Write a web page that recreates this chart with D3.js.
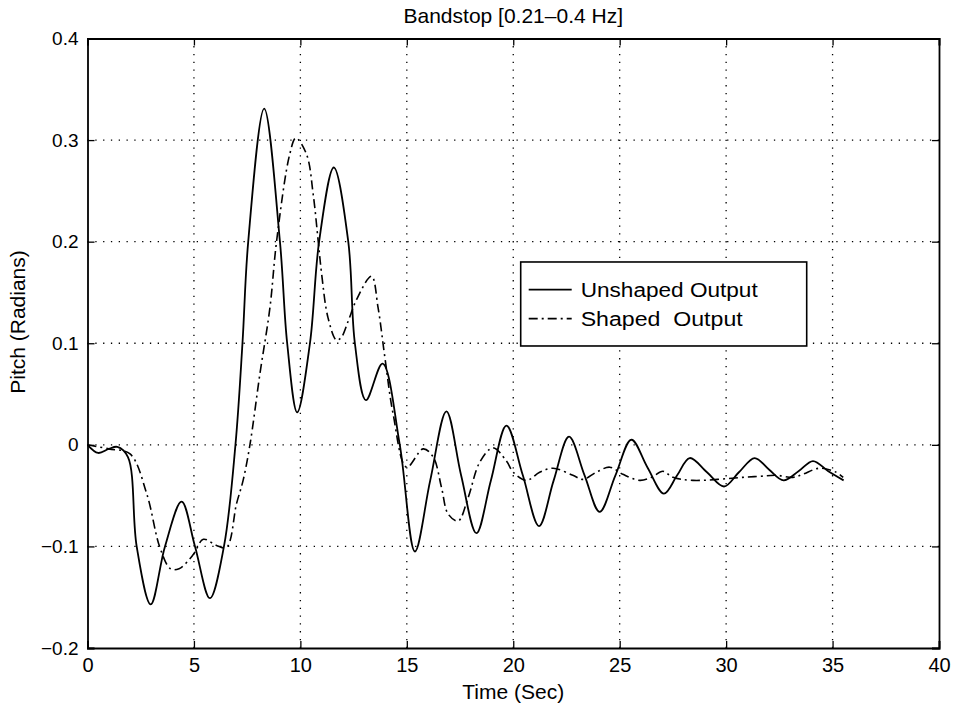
<!DOCTYPE html>
<html><head><meta charset="utf-8">
<script src="https://cdn.jsdelivr.net/npm/d3@7"></script>
<style>
body{margin:0;background:#fff;}
text{font-family:"Liberation Sans",Arial,Helvetica,sans-serif;fill:#000;}
</style></head>
<body><svg id="c" width="954" height="706"></svg>
<script>
const title = "Bandstop [0.21\u20130.4 Hz]";
const xLabel = "Time (Sec)";
const yLabel = "Pitch (Radians)";
const xTicks = [0,5,10,15,20,25,30,35,40];
const yTicks = [-0.2,-0.1,0,0.1,0.2,0.3,0.4];
const yTickLabels = ["\u22120.2","\u22120.1","0","0.1","0.2","0.3","0.4"];
const seriesNames = ["Unshaped Output","Shaped  Output"];

const unshapedT = [0,0.5,1.0,1.4,1.9,2.31,2.97,3.64,4.42,5.05,5.75,6.41,6.95,7.28,7.55,8.3,9.04,9.38,9.85,10.45,10.88,11.57,12.25,12.56,13.08,13.86,14.67,15.38,16.1,16.86,17.55,18.27,18.95,19.68,20.45,21.21,21.9,22.62,23.35,24.06,24.8,25.55,26.3,27.08,27.7,28.29,29.1,29.9,30.6,31.34,32.0,32.7,33.4,34.08,34.8,35.52];
const unshapedV = [0,-0.008,-0.004,-0.002,-0.012,-0.10,-0.157,-0.10,-0.056,-0.10,-0.151,-0.10,0,0.10,0.20,0.331,0.20,0.10,0.032,0.10,0.20,0.273,0.20,0.10,0.044,0.080,0,-0.105,-0.035,0.033,-0.03,-0.087,-0.035,0.019,-0.03,-0.080,-0.035,0.008,-0.03,-0.066,-0.03,0.005,-0.022,-0.048,-0.03,-0.013,-0.027,-0.041,-0.027,-0.013,-0.024,-0.035,-0.026,-0.016,-0.026,-0.035];

const shapedT = [0,1.0,2.0,2.78,3.4,3.9,4.3,4.97,5.44,6.06,6.53,7.0,7.31,7.63,8.1,8.57,8.88,9.5,9.79,10.29,10.6,10.84,11.0,11.3,11.7,11.93,12.25,12.64,13.34,13.65,13.97,14.36,14.99,15.77,16.24,16.63,16.94,17.41,17.88,18.43,19.05,19.68,20.0,20.62,21.24,21.87,22.8,23.28,23.9,24.53,25.15,25.94,26.5,27.03,27.5,28.44,30.79,31.57,32.36,33.14,33.6,34.39,35.17,35.5];
const shapedV = [0,-0.004,-0.009,-0.048,-0.101,-0.122,-0.122,-0.108,-0.093,-0.099,-0.101,-0.058,-0.035,0,0.07,0.135,0.2,0.286,0.302,0.286,0.247,0.2,0.168,0.125,0.103,0.106,0.122,0.143,0.166,0.135,0.086,0.03,-0.022,-0.004,-0.012,-0.042,-0.068,-0.075,-0.052,-0.017,-0.003,-0.016,-0.027,-0.035,-0.027,-0.023,-0.03,-0.034,-0.027,-0.022,-0.029,-0.035,-0.032,-0.026,-0.032,-0.035,-0.032,-0.031,-0.030,-0.032,-0.029,-0.023,-0.027,-0.032];

const W=954,H=706;
const m={left:87.5,right:15,top:38.5,bottom:58};
const svg=d3.select("#c");
const x=d3.scaleLinear().domain([0,40]).range([m.left,W-m.right]);
const y=d3.scaleLinear().domain([-0.2,0.4]).range([H-m.bottom,m.top]);
const FONT="Liberation Sans, Arial, sans-serif";

const g=svg.append("g");
// grid
g.selectAll(".gx").data(xTicks.slice(1,-1)).enter().append("line")
 .attr("x1",d=>x(d)).attr("x2",d=>x(d)).attr("y1",y(-0.2)).attr("y2",y(0.4))
 .attr("stroke","#000").attr("stroke-width",1.3).attr("stroke-dasharray","1.3,6.5");
g.selectAll(".gy").data(yTicks.slice(1,-1)).enter().append("line")
 .attr("y1",d=>y(d)).attr("y2",d=>y(d)).attr("x1",x(0)).attr("x2",x(40))
 .attr("stroke","#000").attr("stroke-width",1.3).attr("stroke-dasharray","1.3,6.5");

// axes
const ax=g.append("g").attr("transform",`translate(0,${y(-0.2)})`)
 .call(d3.axisBottom(x).tickValues(xTicks).tickSize(-7).tickPadding(10).tickFormat(d3.format("d")));
const axT=g.append("g").attr("transform",`translate(0,${y(0.4)})`)
 .call(d3.axisTop(x).tickValues(xTicks).tickSize(-7).tickFormat(""));
const ay=g.append("g").attr("transform",`translate(${x(0)},0)`)
 .call(d3.axisLeft(y).tickValues(yTicks).tickSize(-7).tickPadding(9).tickFormat((d,i)=>yTickLabels[i]));
const ayR=g.append("g").attr("transform",`translate(${x(40)},0)`)
 .call(d3.axisRight(y).tickValues(yTicks).tickSize(-7).tickFormat(""));
[ax,axT,ay,ayR].forEach(a=>{
  a.select(".domain").attr("stroke","#000").attr("stroke-width",1.8);
  a.selectAll(".tick line").attr("stroke","#000").attr("stroke-width",1.3);
  a.selectAll("text").attr("font-family",FONT).attr("fill","#000");
});
ax.selectAll("text").attr("font-size",20);
ay.selectAll("text").attr("font-size",19);

// lines
const line=d3.line().x(d=>x(d[0])).y(d=>y(d[1])).curve(d3.curveCatmullRom.alpha(0.5));
const uData=unshapedT.map((t,i)=>[t,unshapedV[i]]);
const sData=shapedT.map((t,i)=>[t,shapedV[i]]);
g.append("path").datum(sData).attr("d",line).attr("fill","none").attr("stroke","#000")
 .attr("stroke-width",1.6).attr("stroke-dasharray","9,4,2,4");
g.append("path").datum(uData).attr("d",line).attr("fill","none").attr("stroke","#000")
 .attr("stroke-width",1.8);

// legend
const lx=x(20.35), ly=y(0.18);
const lw=286, lh=84;
g.append("rect").attr("x",lx).attr("y",ly).attr("width",lw).attr("height",lh)
 .attr("fill","#fff").attr("stroke","#000").attr("stroke-width",1.6);
const rows=[{dy:27.6,dash:null},{dy:56.6,dash:"9,4,2,4"}];
rows.forEach((r,i)=>{
  const l=g.append("line").attr("x1",lx+8).attr("x2",lx+51).attr("y1",ly+r.dy).attr("y2",ly+r.dy)
   .attr("stroke","#000").attr("stroke-width",1.6);
  if(r.dash) l.attr("stroke-dasharray",r.dash);
  g.append("text").attr("x",lx+60).attr("y",ly+r.dy+7.3).attr("font-size",20)
   .attr("textLength",i===0?177:162).attr("lengthAdjust","spacingAndGlyphs")
   .style("white-space","pre").text(seriesNames[i]);
});

// titles
svg.append("text").attr("x",(x(0)+x(40))/2).attr("y",23).attr("text-anchor","middle").attr("font-size",21).text(title);
svg.append("text").attr("x",(x(0)+x(40))/2).attr("y",699).attr("text-anchor","middle").attr("font-size",21).text(xLabel);
svg.append("text").attr("transform",`translate(25,322) rotate(-90)`).attr("text-anchor","middle").attr("font-size",21).text(yLabel);
</script></body></html>
